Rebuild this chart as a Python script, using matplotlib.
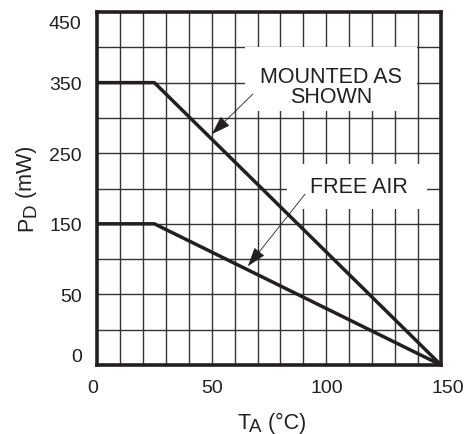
import numpy as np
import matplotlib
matplotlib.use('Agg')
import matplotlib.pyplot as plt
import matplotlib.transforms as mtrans
from matplotlib.patches import Rectangle

plt.rcParams['font.family'] = ['Liberation Sans', 'DejaVu Sans']

# Derating curves (ambient temperature in degC, power dissipation in mW)
mounted_t = [0, 25, 150]
mounted_p = [350, 350, 0]
free_t = [0, 25, 150]
free_p = [150, 150, 0]

x_ticks = [0, 50, 100, 150]
y_ticks = [0, 50, 150, 250, 350, 450]

# the datasheet axis is not linear: 0->50 takes two divisions, then 50 per division
y_vals = [0, 50, 450]
y_divs = [0, 2, 10]


def fwd(v):
    return np.interp(v, y_vals, y_divs)


def inv(d):
    return np.interp(d, y_divs, y_vals)


ink = '#231f20'
W, H = 469, 435

fig = plt.figure(figsize=(4.69, 4.35), dpi=100)
ax = fig.add_axes([0.2068, 0.1586, 0.7335, 0.8115])
ax.set_yscale('function', functions=(fwd, inv))
ax.set_xlim(0, 150)
ax.set_ylim(0, 450)

# grid
for x in range(10, 150, 10):
    ax.axvline(x, color='#333333', lw=1.0, zorder=1)
for d in range(1, 10):
    ax.axhline(inv(d), color='#333333', lw=1.0, zorder=1)

ax.plot(mounted_t, mounted_p, color=ink, lw=2.5, zorder=3,
        solid_capstyle='butt')
ax.plot(free_t, free_p, color=ink, lw=2.5, zorder=3,
        solid_capstyle='butt')

ax.set_xticks(x_ticks)
ax.set_yticks(y_ticks)
ax.tick_params(length=0, labelsize=14, colors=ink)
ax.tick_params(axis='y', pad=11)
ax.tick_params(axis='x', pad=10)
for s in ax.spines.values():
    s.set_linewidth(2.6)
    s.set_color(ink)
    s.set_zorder(4)

# end labels sit inside the axis range, like the datasheet
ylabels = ax.get_yticklabels()
ylabels[0].set_va('bottom')
ylabels[-1].set_va('top')
ylabels[-1].set_transform(ylabels[-1].get_transform() +
                          mtrans.ScaledTranslation(0, -2 / 72, fig.dpi_scale_trans))
xlabels = ax.get_xticklabels()
xlabels[0].set_transform(xlabels[0].get_transform() +
                         mtrans.ScaledTranslation(-3 / 72, 0, fig.dpi_scale_trans))
xlabels[-1].set_transform(xlabels[-1].get_transform() +
                          mtrans.ScaledTranslation(5 / 72, 0, fig.dpi_scale_trans))

# axis titles with full-height subscripts, built from pieces
big, small = 15.5, 13.5
t1 = fig.text(237 / W, 1 - 434 / H, 'T', fontsize=big, color=ink,
              ha='left', va='bottom')
t2 = ax.annotate('A', xy=(1, 0), xycoords=t1, xytext=(-0.5, -1.5),
                 textcoords='offset points', fontsize=small, color=ink,
                 ha='left', va='bottom', annotation_clip=False)
ax.annotate(' (°C)', xy=(1, 0), xycoords=(t2, t1), xytext=(0, 0),
            textcoords='offset points', fontsize=big, color=ink,
            ha='left', va='bottom', annotation_clip=False)

p1 = fig.text(37 / W, 1 - 231 / H, 'P', fontsize=big, color=ink,
              rotation=90, ha='right', va='bottom')
p2 = ax.annotate('D', xy=(1, 1), xycoords=p1, xytext=(1.5, -0.5),
                 textcoords='offset points', fontsize=small, color=ink,
                 rotation=90, ha='right', va='bottom', annotation_clip=False)
ax.annotate(' (mW)', xy=(1, 1), xycoords=(p1, p2), xytext=(0, 0),
            textcoords='offset points', fontsize=big, color=ink,
            rotation=90, ha='right', va='bottom', annotation_clip=False)

# white boxes hiding the grid behind the labels
ax.add_patch(Rectangle((64.5, 310), 75, 90, facecolor='white',
                       edgecolor='none', zorder=2))
ax.add_patch(Rectangle((83, 171), 61, 64, facecolor='white',
                       edgecolor='none', zorder=2))
ax.text(102, 345, 'MOUNTED AS\nSHOWN', ha='center', va='center',
        fontsize=15.5, linespacing=0.95, zorder=2.5, color=ink)
ax.text(114, 203, 'FREE AIR', ha='center', va='center', fontsize=15.5,
        zorder=2.5, color=ink)

arrow = dict(arrowstyle='-|>,head_length=1.2,head_width=0.4', lw=0.6,
             color=ink, shrinkA=0, shrinkB=0)
ax.annotate('', xy=(50.1, 277), xytext=(68, 334), arrowprops=arrow, zorder=5)
ax.annotate('', xy=(65.8, 90), xytext=(90.7, 192), arrowprops=arrow, zorder=5)

fig.savefig('out.png', dpi=100)
